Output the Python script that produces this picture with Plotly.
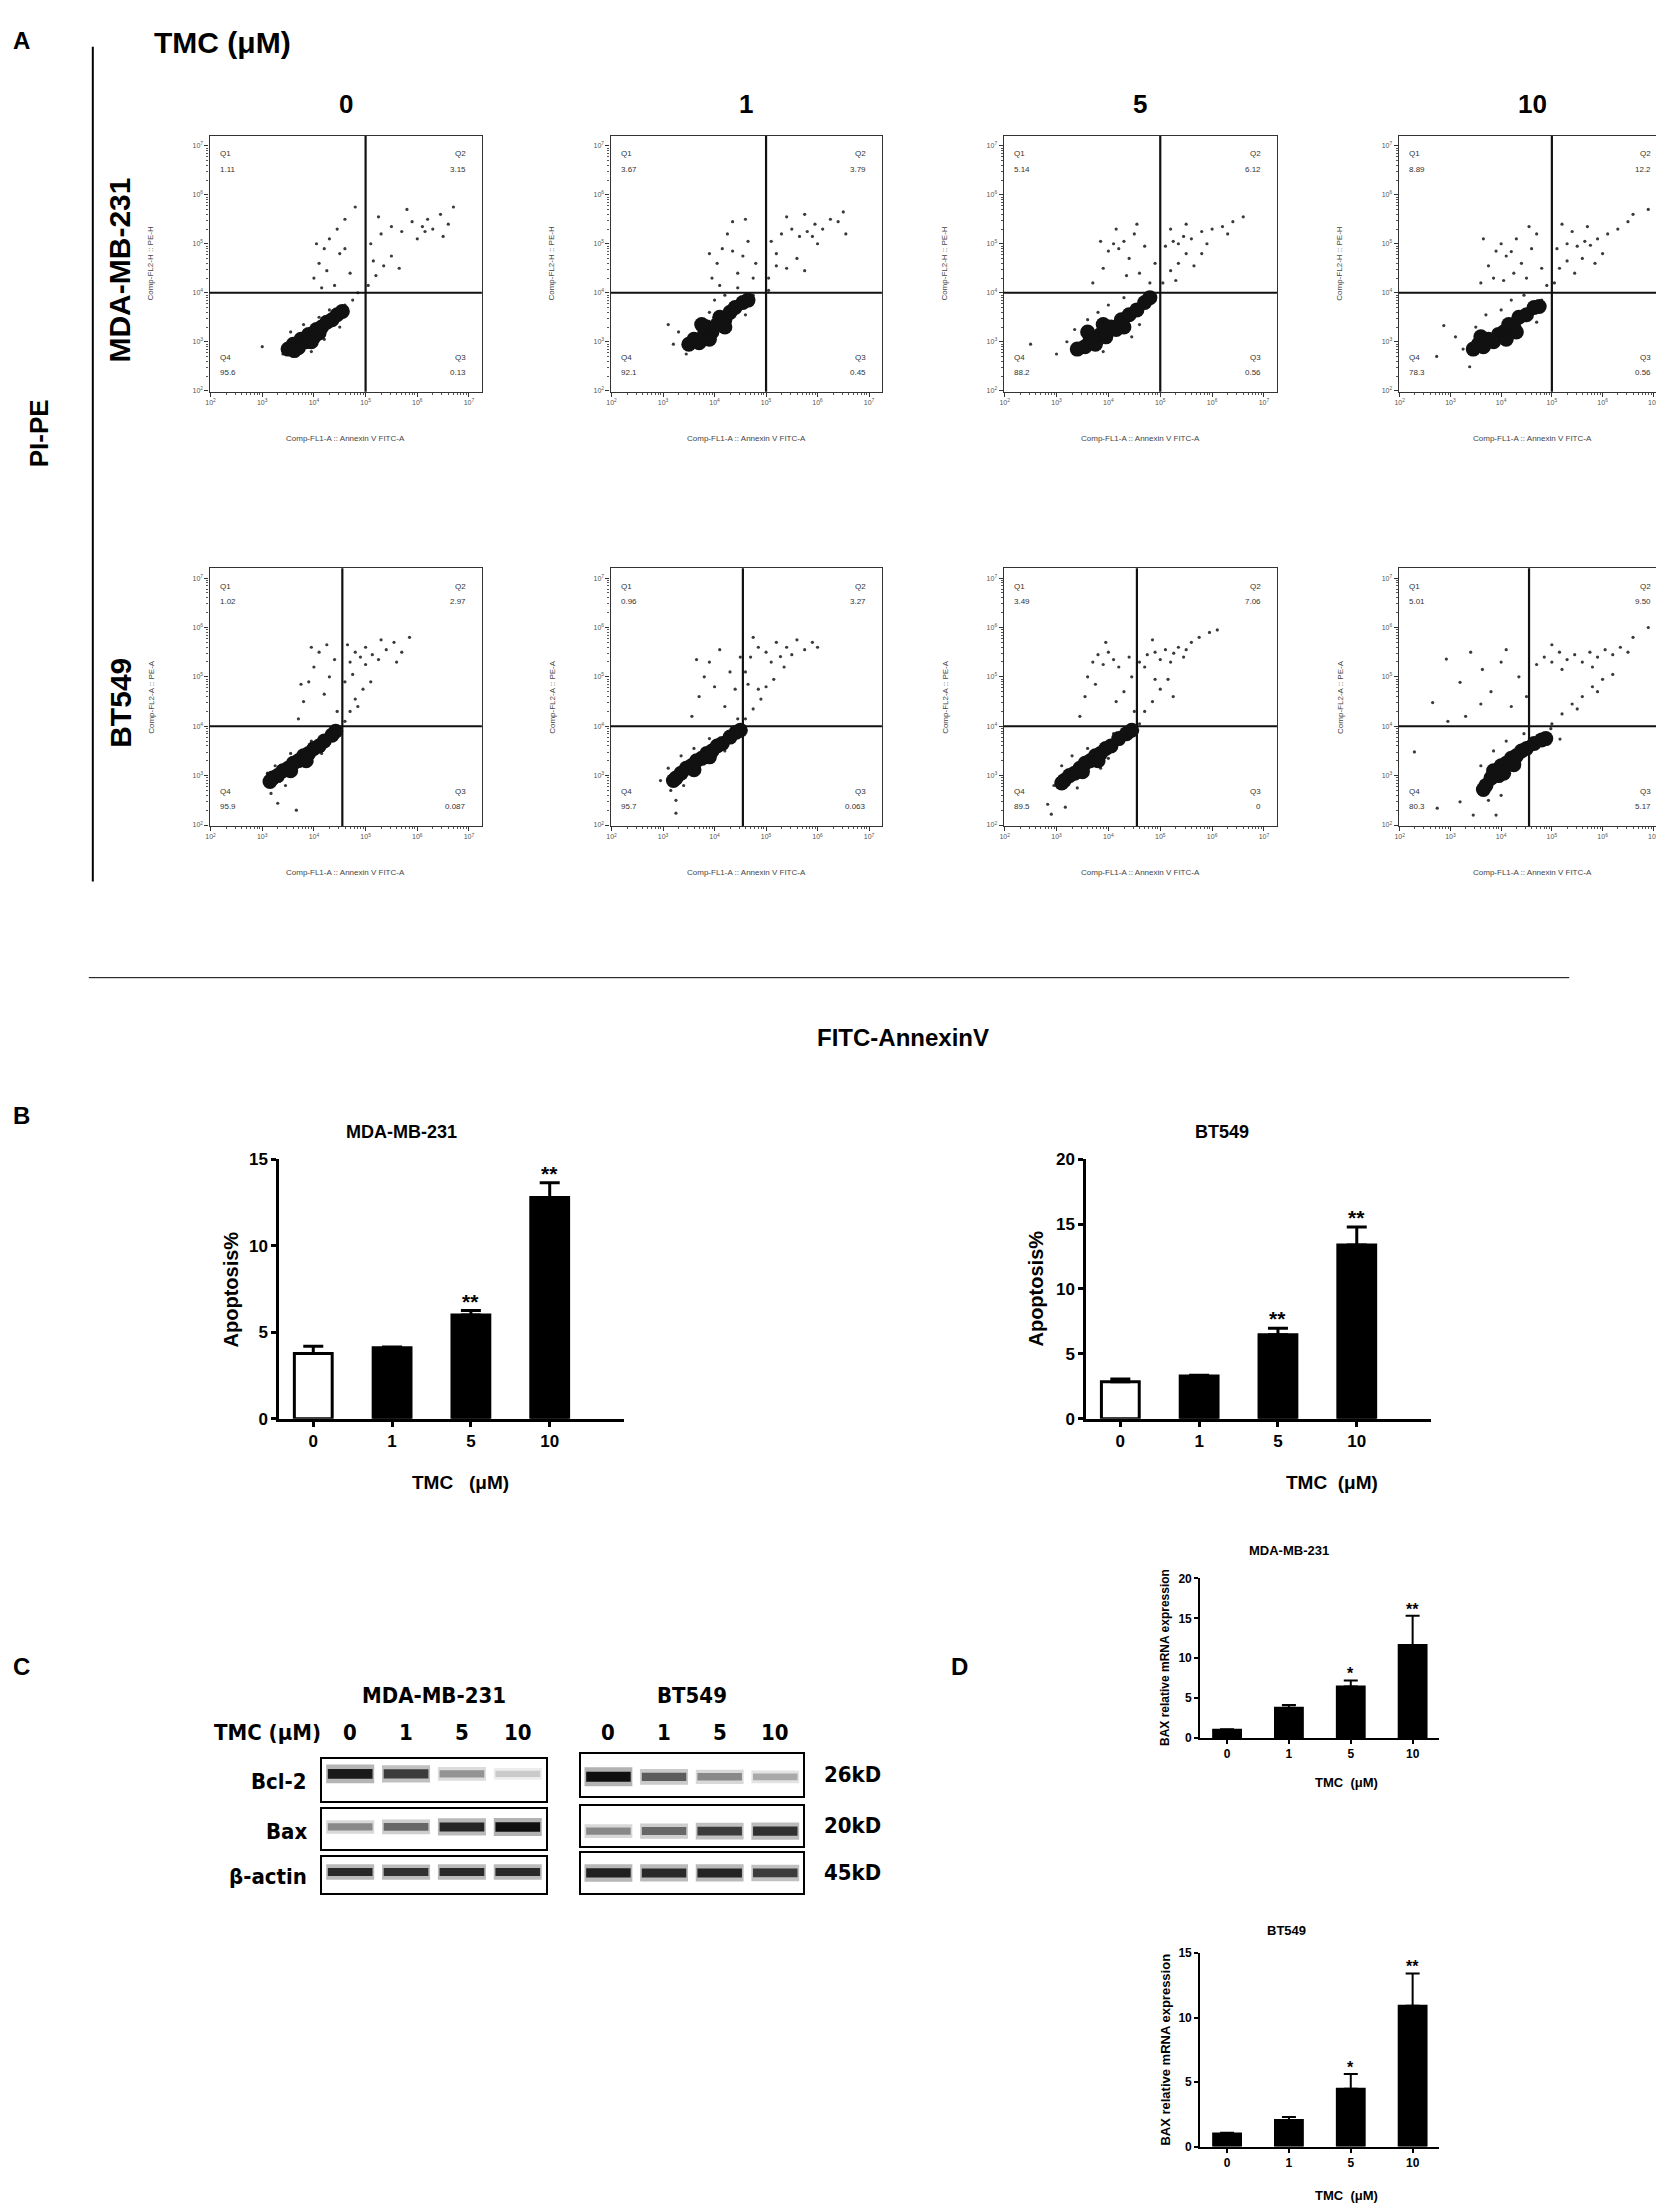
import numpy as np
import plotly.graph_objects as go

W, H = 1664, 2212
FONT = "Liberation Sans, Arial, sans-serif"
NARROW = "Liberation Sans Narrow, DejaVu Sans Condensed, Arial Narrow, sans-serif"

# ------------------------------------------------------------------ dati
doses = ["0", "1", "5", "10"]
cell_lines = ["MDA-MB-231", "BT549"]

# percentuali dei quadranti (citometria)
mda_q1 = ["1.11", "3.67", "5.14", "8.89"]
mda_q2 = ["3.15", "3.79", "6.12", "12.2"]
mda_q3 = ["0.13", "0.45", "0.56", "0.56"]
mda_q4 = ["95.6", "92.1", "88.2", "78.3"]
bt_q1 = ["1.02", "0.96", "3.49", "5.01"]
bt_q2 = ["2.97", "3.27", "7.06", "9.50"]
bt_q3 = ["0.087", "0.063", "0", "5.17"]
bt_q4 = ["95.9", "95.7", "89.5", "80.3"]

# gate dei quadranti (log10)
gate_x = {"MDA-MB-231": 5.0, "BT549": 4.55}
gate_y = 4.0

m0_core = [(3.50, 2.85), (3.60, 2.95), (3.70, 2.88), (3.75, 3.05), (3.85, 3.00), (3.90, 3.15),
           (4.00, 3.10), (4.05, 3.25), (4.15, 3.30), (4.25, 3.40), (4.35, 3.45), (4.45, 3.55),
           (4.55, 3.62), (3.62, 2.82), (4.10, 3.18), (3.95, 3.00)]
m0_dots = [(3.0, 2.9), (3.4, 2.75), (3.55, 3.2), (3.8, 3.35), (4.1, 3.5), (4.3, 3.65), (4.6, 3.75),
           (4.75, 3.85), (4.5, 3.3), (4.2, 3.05), (3.95, 2.8), (4.85, 4.0),
           (4.0, 4.3), (4.1, 4.6), (4.2, 4.9), (4.3, 5.1), (4.45, 5.3), (4.6, 5.5), (4.7, 4.4),
           (4.5, 4.8), (4.25, 4.45), (4.05, 5.0), (4.4, 4.15), (4.8, 5.75), (4.15, 4.1), (4.6, 4.9),
           (5.1, 5.0), (5.3, 5.2), (5.5, 5.35), (5.7, 5.25), (5.9, 5.45), (6.1, 5.35), (6.2, 5.5),
           (6.3, 5.3), (6.45, 5.6), (6.6, 5.4), (5.8, 5.7), (6.0, 5.1), (6.5, 5.15), (5.25, 5.55),
           (6.7, 5.75), (6.15, 5.25),
           (5.05, 4.15), (5.2, 4.35), (5.35, 4.55), (5.5, 4.75), (5.65, 4.5), (5.15, 4.65)]

m1_core = [(3.50, 2.95), (3.60, 3.05), (3.70, 2.98), (3.80, 3.15), (3.85, 3.30), (3.95, 3.20),
           (4.05, 3.35), (4.10, 3.50), (4.20, 3.45), (4.30, 3.60), (4.40, 3.70), (4.55, 3.80),
           (4.65, 3.85), (3.75, 3.35), (4.20, 3.30), (3.90, 3.05)]
m1_dots = [(3.2, 2.95), (3.3, 3.2), (3.45, 2.75), (3.65, 3.4), (3.9, 3.6), (4.0, 3.85), (4.2, 3.95),
           (4.45, 4.1), (4.6, 3.55), (4.3, 3.25), (4.75, 3.95), (3.1, 3.35),
           (3.95, 4.3), (4.05, 4.6), (4.15, 4.9), (4.25, 5.2), (4.35, 5.45), (4.45, 4.4), (4.55, 4.75),
           (4.65, 5.05), (4.75, 4.3), (4.1, 4.15), (4.35, 4.85), (4.6, 5.5), (3.9, 4.8), (4.8, 4.6),
           (5.1, 5.05), (5.3, 5.2), (5.5, 5.3), (5.65, 5.15), (5.8, 5.25), (5.95, 5.4), (6.1, 5.3),
           (6.25, 5.5), (6.4, 5.45), (6.55, 5.2), (5.4, 5.55), (5.75, 5.6), (6.0, 5.0), (5.2, 4.8),
           (6.5, 5.65), (5.9, 5.15),
           (5.05, 4.3), (5.2, 4.55), (5.4, 4.5), (5.6, 4.7), (5.75, 4.45), (5.05, 4.05)]

m5_core = [(3.40, 2.85), (3.55, 2.90), (3.65, 3.05), (3.75, 2.95), (3.85, 3.15), (3.95, 3.10),
           (4.05, 3.30), (4.15, 3.25), (4.25, 3.45), (4.40, 3.55), (4.55, 3.65), (4.70, 3.80),
           (4.80, 3.90), (3.60, 3.20), (4.30, 3.30), (3.90, 3.35)]
m5_dots = [(2.5, 2.95), (3.0, 2.75), (3.2, 3.0), (3.35, 3.25), (3.6, 3.45), (3.8, 3.6), (4.0, 3.75),
           (4.3, 3.9), (4.6, 3.35), (4.85, 3.95), (3.9, 2.8), (4.45, 3.1),
           (3.7, 4.2), (3.9, 4.5), (4.0, 4.85), (4.1, 5.0), (4.2, 4.9), (4.3, 5.05), (4.4, 4.7),
           (4.5, 5.2), (4.6, 4.4), (4.7, 4.95), (4.8, 4.2), (4.15, 5.3), (3.85, 5.05), (4.35, 4.35),
           (4.9, 4.6), (4.55, 5.4),
           (5.1, 4.95), (5.25, 5.05), (5.35, 5.0), (5.45, 5.15), (5.6, 5.1), (5.8, 5.25), (6.0, 5.3),
           (6.2, 5.35), (6.4, 5.45), (6.6, 5.55), (5.5, 5.4), (5.9, 5.0), (6.3, 5.2), (5.2, 5.3),
           (5.05, 4.2), (5.2, 4.45), (5.35, 4.6), (5.5, 4.8), (5.65, 4.55), (5.3, 4.25), (5.8, 4.8)]

m10_core = [(3.45, 2.85), (3.55, 2.95), (3.65, 2.90), (3.75, 3.05), (3.85, 3.00), (3.95, 3.15),
            (4.05, 3.20), (4.15, 3.35), (4.25, 3.30), (4.35, 3.50), (4.50, 3.55), (4.65, 3.70),
            (4.75, 3.72), (3.60, 3.10), (4.10, 3.05), (4.30, 3.20)]
m10_dots = [(2.73, 2.7), (3.1, 3.1), (3.38, 2.49), (2.87, 3.33), (3.25, 2.85), (3.5, 3.3), (3.7, 3.55),
            (4.0, 3.65), (4.2, 3.85), (4.45, 3.95), (4.7, 3.4), (4.8, 3.85),
            (3.6, 4.2), (3.75, 4.55), (3.9, 4.85), (4.0, 5.0), (4.1, 4.75), (4.2, 4.84), (4.3, 5.1),
            (4.4, 4.6), (4.5, 4.3), (4.6, 4.9), (4.7, 5.2), (4.8, 4.5), (3.85, 4.3), (4.25, 4.4),
            (4.55, 5.35), (4.9, 4.15), (3.65, 5.1), (4.05, 4.25),
            (5.1, 4.9), (5.3, 5.0), (5.5, 4.95), (5.65, 5.05), (5.76, 4.97), (5.9, 5.1), (6.1, 5.2),
            (6.3, 5.3), (6.5, 5.45), (5.4, 5.25), (5.7, 5.35), (6.0, 4.8), (5.2, 5.4), (6.6, 5.6),
            (6.9, 5.7),
            (5.05, 4.2), (5.15, 4.5), (5.3, 4.65), (5.45, 4.4), (5.6, 4.7), (5.85, 4.6)]

b0_core = [(3.20, 2.95), (3.30, 3.00), (3.40, 3.10), (3.50, 3.15), (3.60, 3.25), (3.70, 3.30),
           (3.80, 3.40), (3.90, 3.45), (4.00, 3.55), (4.10, 3.60), (4.20, 3.70), (4.35, 3.82),
           (3.15, 2.88), (4.42, 3.90), (3.55, 3.10), (3.85, 3.30)]
b0_dots = [(3.17, 2.64), (3.3, 2.44), (3.66, 2.3), (3.05, 2.85), (3.25, 3.2), (3.55, 3.45), (3.85, 3.2),
           (4.15, 3.45), (4.45, 3.95), (3.45, 2.8), (3.95, 3.7), (3.1, 3.05),
           (3.7, 4.15), (3.8, 4.5), (3.9, 4.9), (4.0, 5.2), (4.1, 5.5), (4.2, 4.65), (4.3, 5.0),
           (4.4, 5.35), (3.95, 5.6), (4.45, 4.3), (4.25, 5.65), (3.75, 4.85),
           (4.6, 4.9), (4.7, 5.3), (4.8, 5.5), (4.9, 5.4), (5.0, 5.6), (5.13, 5.45), (5.25, 5.35),
           (5.4, 5.55), (5.55, 5.7), (5.7, 5.5), (5.85, 5.8), (4.65, 5.65), (5.0, 5.25), (5.3, 5.75),
           (5.6, 5.3), (4.75, 5.05),
           (4.6, 4.1), (4.7, 4.3), (4.8, 4.55), (4.95, 4.75), (5.1, 4.9), (4.85, 4.4)]

b1_core = [(3.25, 2.95), (3.35, 3.05), (3.45, 3.15), (3.55, 3.20), (3.65, 3.30), (3.75, 3.35),
           (3.85, 3.45), (3.95, 3.50), (4.05, 3.60), (4.15, 3.65), (4.30, 3.78), (4.42, 3.88),
           (3.20, 2.90), (4.50, 3.92), (3.60, 3.12), (3.90, 3.38)]
b1_dots = [(3.25, 2.5), (3.25, 2.24), (2.95, 2.9), (3.1, 3.15), (3.4, 2.8), (3.7, 3.1), (3.6, 3.55),
           (3.9, 3.75), (4.2, 3.5), (4.5, 3.95), (3.15, 2.7), (3.35, 3.4),
           (3.56, 4.2), (3.7, 4.6), (3.8, 5.0), (3.9, 5.3), (4.0, 4.8), (4.1, 5.55), (4.2, 4.4),
           (4.3, 5.1), (4.4, 4.75), (4.5, 5.4), (3.65, 5.35), (4.45, 4.15),
           (4.6, 5.1), (4.7, 5.4), (4.85, 5.6), (5.0, 5.5), (5.1, 5.3), (5.28, 5.41), (5.4, 5.6),
           (5.5, 5.45), (5.6, 5.75), (5.75, 5.55), (5.9, 5.7), (4.75, 5.8), (5.2, 5.7), (5.35, 5.2),
           (6.0, 5.6), (4.65, 4.85),
           (4.6, 4.15), (4.75, 4.35), (4.9, 4.55), (5.0, 4.8), (5.15, 4.95), (4.85, 4.75)]

b5_core = [(3.15, 2.90), (3.25, 3.00), (3.35, 3.05), (3.45, 3.15), (3.55, 3.25), (3.65, 3.30),
           (3.75, 3.40), (3.85, 3.45), (3.95, 3.55), (4.05, 3.60), (4.20, 3.75), (4.35, 3.85),
           (3.10, 2.85), (4.45, 3.92), (3.50, 3.08), (3.80, 3.30)]
b5_dots = [(2.83, 2.42), (3.17, 2.36), (2.9, 2.22), (2.95, 2.8), (3.1, 3.2), (3.4, 2.75), (3.6, 3.55),
           (3.85, 3.15), (4.1, 3.85), (4.45, 3.98), (3.3, 3.4), (4.0, 3.35),
           (3.45, 4.2), (3.55, 4.6), (3.6, 5.0), (3.7, 5.3), (3.8, 5.45), (3.9, 5.25), (4.0, 5.5),
           (4.1, 5.35), (4.2, 5.2), (4.3, 4.7), (4.4, 5.4), (4.5, 4.3), (3.75, 4.85), (4.15, 4.5),
           (3.95, 5.7), (4.45, 5.0),
           (4.6, 5.3), (4.75, 5.45), (4.9, 5.5), (5.0, 5.35), (5.1, 5.55), (5.26, 5.48), (5.35, 5.6),
           (5.45, 5.4), (5.6, 5.7), (5.75, 5.8), (5.95, 5.9), (4.7, 5.2), (5.2, 5.3), (5.5, 5.55),
           (6.1, 5.95), (4.85, 5.75),
           (4.6, 4.05), (4.7, 4.3), (4.85, 4.5), (5.0, 4.75), (5.15, 4.95), (5.25, 4.6), (4.9, 4.95)]

b10_core = [(3.70, 2.80), (3.80, 2.95), (3.85, 3.10), (3.95, 3.00), (4.00, 3.20), (4.10, 3.25),
            (4.20, 3.35), (4.30, 3.40), (4.40, 3.50), (4.50, 3.55), (4.65, 3.65), (4.80, 3.72),
            (3.65, 2.72), (4.88, 3.75), (4.05, 3.05), (4.25, 3.22)]
b10_dots = [(2.74, 2.34), (3.19, 2.47), (2.29, 3.48), (3.9, 2.2), (3.45, 2.2), (3.75, 2.5), (3.6, 3.2),
            (3.85, 3.5), (4.1, 3.7), (4.45, 3.85), (4.71, 3.81), (4.98, 3.95), (5.16, 3.74), (4.0, 2.6),
            (2.92, 5.36), (3.19, 4.89), (2.65, 4.48), (3.63, 5.15), (3.4, 5.5), (3.8, 4.7), (4.0, 5.3),
            (4.2, 4.4), (4.35, 5.0), (4.5, 4.6), (3.3, 4.2), (4.1, 5.55), (2.95, 4.1), (3.6, 4.45),
            (4.7, 5.25), (4.85, 5.4), (5.0, 5.3), (5.15, 5.5), (5.3, 5.35), (5.45, 5.45), (5.6, 5.3),
            (5.75, 5.5), (5.9, 5.4), (6.05, 5.55), (6.2, 5.45), (6.35, 5.6), (6.5, 5.5), (5.2, 5.15),
            (5.8, 5.2), (6.6, 5.8), (6.9, 6.0), (5.0, 5.65),
            (5.0, 4.05), (5.2, 4.25), (5.4, 4.45), (5.6, 4.6), (5.8, 4.8), (6.0, 4.95), (6.2, 5.05),
            (5.5, 4.35), (5.9, 4.7)]

# apoptosi % (pannello B)
b_mda_mean = [3.77, 4.10, 6.00, 12.78]
b_mda_err = [0.42, 0.05, 0.25, 0.86]
b_bt_mean = [2.85, 3.29, 6.47, 13.38]
b_bt_err = [0.21, 0.06, 0.51, 1.40]
b_sig = ["", "", "**", "**"]

# BAX mRNA (pannello D)
d_mda_mean = [1.05, 3.80, 6.47, 11.66]
d_mda_err = [0.05, 0.35, 0.75, 3.67]
d_bt_mean = [1.02, 2.05, 4.48, 10.92]
d_bt_err = [0.05, 0.25, 1.15, 2.51]
d_sig = ["", "", "*", "**"]

# western blot (pannello C): intensita' delle bande 0..1
proteins = ["Bcl-2", "Bax", "β-actin"]
kd_labels = ["26kD", "20kD", "45kD"]
mda_bcl2 = [0.95, 0.80, 0.40, 0.15]
mda_bax = [0.45, 0.60, 0.90, 1.00]
mda_actin = [0.88, 0.85, 0.88, 0.88]
bt_bcl2 = [1.00, 0.65, 0.45, 0.30]
bt_bax = [0.45, 0.60, 0.80, 0.85]
bt_actin = [0.92, 0.88, 0.90, 0.80]

# ------------------------------------------------------------------ helpers
fig = go.Figure()
axes = {}
ann = []
shapes = []
count = [0]


def add_axes(x0, x1, y0, y1, xa, ya):
    count[0] += 1
    k = "" if count[0] == 1 else str(count[0])
    axes["xaxis" + k] = dict(xa, domain=[x0 / W, x1 / W], anchor="y" + k)
    axes["yaxis" + k] = dict(ya, domain=[1 - y1 / H, 1 - y0 / H], anchor="x" + k)
    return "x" + k, "y" + k


def text(x, y, s, size, angle=0, xanchor="center", family=FONT, color="black"):
    ann.append(dict(x=x / W, y=1 - y / H, xref="paper", yref="paper", text=s, showarrow=False,
                    xanchor=xanchor, yanchor="middle", textangle=angle,
                    font=dict(size=size, family=family, color=color)))


def paper_line(x0, y0, x1, y1, width=2):
    shapes.append(dict(type="line", xref="paper", yref="paper", x0=x0 / W, x1=x1 / W,
                       y0=1 - y0 / H, y1=1 - y1 / H, line=dict(color="black", width=width)))


# ------------------------------------------------------------------ pannello A
flow_cols = [(198, 471), (600, 872), (994, 1268), (1390, 1658)]
flow_rows = [(120, 378), (556, 816)]
flow_sets = [
    ("MDA-MB-231", [m0_core, m1_core, m5_core, m10_core], [m0_dots, m1_dots, m5_dots, m10_dots],
     [mda_q1, mda_q2, mda_q3, mda_q4], "Comp-FL2-H :: PE-H"),
    ("BT549", [b0_core, b1_core, b5_core, b10_core], [b0_dots, b1_dots, b5_dots, b10_dots],
     [bt_q1, bt_q2, bt_q3, bt_q4], "Comp-FL2-A :: PE-A"),
]

decades = list(range(2, 8))
log_text = ["10<sup>%d</sup>" % e for e in decades]
minor_vals = [float(np.log10(m * 10.0 ** e)) for e in range(2, 7) for m in range(2, 10)]


def flow_axis(rng):
    return dict(range=rng, showgrid=False, zeroline=False, showline=True, mirror=True,
                linecolor="#333", linewidth=1.2, ticks="outside", ticklen=4, tickwidth=1.2,
                tickcolor="#333", tickvals=decades, ticktext=log_text,
                tickfont=dict(size=7, family=FONT, color="#555"),
                minor=dict(tickmode="array", tickvals=minor_vals, ticks="outside", ticklen=2,
                           tickwidth=0.8, tickcolor="#555", showgrid=False))


for r, (line_name, cores, dots, quads, ylab) in enumerate(flow_sets):
    ry0, ry1 = flow_rows[r]
    for c in range(4):
        cx0, cx1 = flow_cols[c]
        xk, yk = add_axes(cx0, cx1, ry0, ry1, flow_axis([1.98, 7.25]), flow_axis([1.98, 7.2]))
        d = dots[c]
        fig.add_trace(go.Scatter(x=[p[0] for p in d], y=[p[1] for p in d], mode="markers",
                                 marker=dict(size=3.2, color="#3a3a3a"), xaxis=xk, yaxis=yk,
                                 hoverinfo="skip"))
        k = cores[c]
        fig.add_trace(go.Scatter(x=[p[0] for p in k], y=[p[1] for p in k], mode="markers",
                                 marker=dict(size=15, color="#111111", opacity=1.0),
                                 xaxis=xk, yaxis=yk, hoverinfo="skip"))
        gx = gate_x[line_name]
        shapes.append(dict(type="line", xref=xk, yref=yk + " domain", x0=gx, x1=gx, y0=0, y1=1,
                           line=dict(color="#111", width=2.2)))
        shapes.append(dict(type="line", xref=xk + " domain", yref=yk, x0=0, x1=1, y0=gate_y,
                           y1=gate_y, line=dict(color="#111", width=2.2)))
        q1, q2, q3, q4 = (q[c] for q in quads)
        for qx, qy, s, anchor in [(0.03, 0.93, "Q1", "left"), (0.03, 0.87, q1, "left"),
                                  (0.95, 0.93, "Q2", "right"), (0.95, 0.87, q2, "right"),
                                  (0.03, 0.135, "Q4", "left"), (0.03, 0.075, q4, "left"),
                                  (0.95, 0.135, "Q3", "right"), (0.95, 0.075, q3, "right")]:
            ann.append(dict(x=qx, y=qy, xref=xk + " domain", yref=yk + " domain", text=s,
                            showarrow=False, xanchor=anchor, yanchor="middle",
                            font=dict(size=8, family=FONT, color="#333")))
        text((cx0 + cx1) / 2, ry1 + 47, "Comp-FL1-A :: Annexin V FITC-A", 8, color="#444")
        text(cx0 - 59, (ry0 + ry1) / 2, ylab, 8, angle=-90, color="#444")
        if r == 0:
            text((cx0 + cx1) / 2, 88, "<b>%s</b>" % doses[c], 26)
    text(108, (ry0 + ry1) / 2 + 6, "<b>%s</b>" % line_name, 30, angle=-90)

text(10, 24, "<b>A</b>", 24)
text(211, 26, "<b>TMC (μM)</b>", 30)
text(27, 420, "<b>PI-PE</b>", 26, angle=-90)
paper_line(81, 30, 81, 872, 2)
paper_line(77, 969, 1561, 969, 1)
text(893, 1029, "<b>FITC-AnnexinV</b>", 24)

# ------------------------------------------------------------------ grafici a barre


def bar_panel(x0, x1, y0, y1, means, errs, sig, ymax, fills, big):
    lw = 3 if big else 2
    fs = 17 if big else 12
    tl = 5 if big else 4
    unit = 79.0 if big else 62.0
    first = 34.0 if big else 27.0
    tick_font = dict(size=fs, family=FONT, color="black", weight="bold")
    xa = dict(range=[-first / unit, (x1 - x0 - first) / unit], tickvals=[0, 1, 2, 3],
              ticktext=doses, showline=True, linecolor="black", linewidth=lw, ticks="outside",
              ticklen=tl, tickwidth=lw, tickcolor="black", tickfont=tick_font, showgrid=False,
              zeroline=False)
    ya = dict(range=[0, ymax], tickvals=list(range(0, ymax + 1, 5)), showline=True,
              linecolor="black", linewidth=lw, ticks="outside", ticklen=tl, tickwidth=lw,
              tickcolor="black", tickfont=tick_font, showgrid=False, zeroline=False)
    xk, yk = add_axes(x0, x1, y0, y1, xa, ya)
    fig.add_trace(go.Bar(x=[0, 1, 2, 3], y=means, width=0.48 if big else 0.45, xaxis=xk, yaxis=yk,
                         marker=dict(color=fills, line=dict(color="black", width=lw)),
                         error_y=dict(type="data", array=errs, arrayminus=[0] * 4, symmetric=False,
                                      color="black", thickness=lw, width=10 if big else 7),
                         hoverinfo="skip"))
    for i in range(4):
        if sig[i]:
            ann.append(dict(x=i, y=means[i] + errs[i], xref=xk, yref=yk, text="<b>%s</b>" % sig[i],
                            showarrow=False, xanchor="center", yanchor="bottom", yshift=-4,
                            font=dict(size=21 if big else 16, family=FONT, color="black")))
    return xk, yk


# pannello B
bar_panel(268, 613, 1152, 1414, b_mda_mean, b_mda_err, b_sig, 15,
          ["white", "black", "black", "black"], True)
text(390, 1125, "<b>MDA-MB-231</b>", 18)
text(220, 1283, "<b>Apoptosis%</b>", 20, angle=-90)
text(450, 1478, "<b>TMC\u00a0\u00a0\u00a0(μM)</b>", 19)

bar_panel(1077, 1422, 1152, 1414, b_bt_mean, b_bt_err, b_sig, 20,
          ["white", "black", "black", "black"], True)
text(1213, 1125, "<b>BT549</b>", 18)
text(1026, 1283, "<b>Apoptosis%</b>", 20, angle=-90)
text(1323, 1478, "<b>TMC\u00a0\u00a0(μM)</b>", 19)
text(10, 1108, "<b>B</b>", 24)

# pannello D
bar_panel(1191, 1430, 1575, 1736, d_mda_mean, d_mda_err, d_sig, 20, ["black"] * 4, False)
text(1280, 1547, "<b>MDA-MB-231</b>", 13)
text(1156, 1655, "<b>BAX relative mRNA expression</b>", 12, angle=-90)
text(1338, 1781, "<b>TMC\u00a0\u00a0(μM)</b>", 13)

bar_panel(1191, 1430, 1953, 2148, d_bt_mean, d_bt_err, d_sig, 15, ["black"] * 4, False)
text(1278, 1930, "<b>BT549</b>", 13)
text(1156, 2050, "<b>BAX relative mRNA expression</b>", 13, angle=-90)
text(1338, 2197, "<b>TMC\u00a0\u00a0(μM)</b>", 13)
text(950, 1664, "<b>D</b>", 24)

# ------------------------------------------------------------------ pannello C (western blot)
blot_x = {"MDA-MB-231": (311, 535), "BT549": (570, 793)}
blot_y = {"MDA-MB-231": [(1757, 1799), (1808, 1848), (1856, 1892)],
          "BT549": [(1752, 1794), (1804, 1845), (1852, 1892)]}
band_pos = {"MDA-MB-231": [0.64, 0.56, 0.58], "BT549": [0.45, 0.37, 0.50]}
bands = {"MDA-MB-231": [mda_bcl2, mda_bax, mda_actin], "BT549": [bt_bcl2, bt_bax, bt_actin]}

blot_axis_x = dict(range=[-0.5, 3.5], showgrid=False, zeroline=False, showline=True, mirror=True,
                   linecolor="black", linewidth=2, showticklabels=False, ticks="")
blot_axis_y = dict(range=[0, 1], showgrid=False, zeroline=False, showline=True, mirror=True,
                   linecolor="black", linewidth=2, showticklabels=False, ticks="")

for name in cell_lines:
    bx0, bx1 = blot_x[name]
    for j in range(3):
        by0, by1 = blot_y[name][j]
        xk, yk = add_axes(bx0, bx1, by0, by1, blot_axis_x, blot_axis_y)
        inten = bands[name][j]
        thick = [0.13 + 0.11 * v for v in inten]
        pos = band_pos[name][j]
        # alone sfumato + banda
        halo = [t * 1.9 for t in thick]
        fig.add_trace(go.Bar(x=[0, 1, 2, 3], y=halo, base=[pos - t / 2 for t in halo], width=0.86,
                             xaxis=xk, yaxis=yk, hoverinfo="skip",
                             marker=dict(color=["rgb(%d,%d,%d)" % ((int(248 - 70 * v),) * 3)
                                                for v in inten], line=dict(width=0))))
        fig.add_trace(go.Bar(x=[0, 1, 2, 3], y=thick, base=[pos - t / 2 for t in thick], width=0.8,
                             xaxis=xk, yaxis=yk, hoverinfo="skip",
                             marker=dict(color=["rgb(%d,%d,%d)" % ((int(235 - 220 * v),) * 3)
                                                for v in inten], line=dict(width=0))))
        if j == 0:
            for i, lab in enumerate(doses):
                ann.append(dict(x=i, y=1 - 1730 / H, xref=xk, yref="paper", text="<b>%s</b>" % lab,
                                showarrow=False, xanchor="center", yanchor="middle",
                                font=dict(size=22, family=NARROW, color="black")))
    text((bx0 + bx1) / 2, 1693, "<b>%s</b>" % name, 22, family=NARROW)

text(256, 1730, "<b>TMC (μM)</b>", 22, family=NARROW)
for j in range(3):
    ym = sum(blot_y["MDA-MB-231"][j]) / 2
    text(298, ym + 2, "<b>%s</b>" % proteins[j], 22, xanchor="right", family=NARROW)
    ym2 = sum(blot_y["BT549"][j]) / 2
    text(812, ym2, "<b>%s</b>" % kd_labels[j], 22, xanchor="left", family=NARROW)
text(10, 1664, "<b>C</b>", 24)

# ------------------------------------------------------------------ layout
fig.update_layout(width=W, height=H, margin=dict(l=0, r=0, t=0, b=0),
                  paper_bgcolor="white", plot_bgcolor="white", showlegend=False,
                  barmode="overlay", annotations=ann, shapes=shapes,
                  font=dict(family=FONT, color="black"), **axes)

fig.write_html("out.html")
